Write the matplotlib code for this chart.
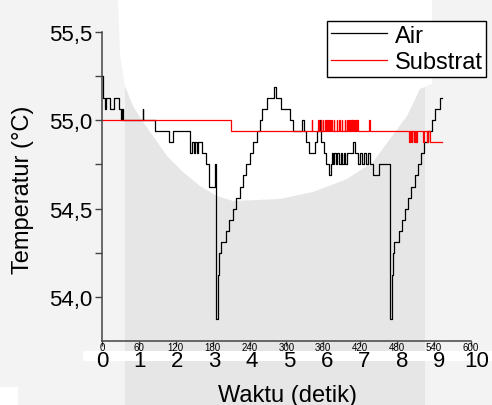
import matplotlib
matplotlib.use("Agg")
import matplotlib.pyplot as plt
from matplotlib.patches import Polygon, Rectangle

plt.rcParams['font.family'] = ['Liberation Sans', 'DejaVu Sans']

# Suhu air (detik, derajat C), resolusi sensor 1/16 C
air_t = [0, 2, 5, 7, 13, 20, 28, 31, 33, 34,
         66, 67, 86, 109, 115, 143, 146, 150, 152, 154,
         156, 163, 169, 174, 184, 186, 189, 190, 193, 202,
         207, 213, 218, 224, 229, 235, 241, 246, 252, 257,
         260, 268, 280, 283, 291, 306, 311, 325, 328, 332,
         336, 346, 349, 354, 357, 361, 365, 370, 372, 374,
         376, 378, 380, 383, 385, 389, 390, 393, 395, 398,
         408, 411, 416, 419, 423, 426, 429, 433, 436, 441,
         450, 469, 472, 473, 475, 483, 488, 493, 498, 503,
         509, 514, 519, 524, 530, 536, 541, 549, 553]
air_v = [55.25, 55.125, 55.0625, 55.125, 55.0625, 55.125, 55.0625, 55.0, 55.0625, 55.0,
         55.0625, 55.0, 54.9375, 54.875, 54.9375, 54.8125, 54.875, 54.8125, 54.875, 54.8125,
         54.875, 54.8125, 54.75, 54.625, 54.75, 53.875, 54.125, 54.25, 54.3125, 54.375,
         54.4375, 54.5, 54.5625, 54.625, 54.6875, 54.75, 54.8125, 54.875, 54.9375, 55.0,
         55.0625, 55.125, 55.1875, 55.125, 55.0625, 55.0, 54.9375, 55.0, 54.9375, 54.875,
         54.8125, 54.875, 54.9375, 55.0, 54.875, 54.8125, 54.75, 54.6875, 54.75, 54.8125,
         54.75, 54.8125, 54.75, 54.8125, 54.75, 54.8125, 54.75, 54.8125, 54.75, 54.8125,
         54.875, 54.8125, 54.75, 54.8125, 54.75, 54.8125, 54.75, 54.8125, 54.75, 54.6875,
         54.75, 53.875, 54.125, 54.25, 54.3125, 54.375, 54.4375, 54.5, 54.5625, 54.625,
         54.6875, 54.75, 54.8125, 54.875, 54.9375, 55.0, 55.0625, 55.125, 55.125]

# Suhu substrat
sub_t = [0, 210,
         341, 342, 352, 353, 356, 357, 359, 360, 363, 364,
         366, 367, 370, 371, 373, 374, 377, 378, 382, 383,
         386, 387, 390, 391, 395, 396, 398, 399, 400, 401,
         403, 404, 405, 406, 407, 408, 409, 410, 411, 412,
         413, 414, 415, 416, 435, 436,
         500, 501, 502, 503, 504, 505, 507, 508, 509, 510,
         511, 512, 522, 523, 528, 529, 530, 531, 533, 553]
sub_v = [55.0, 54.9375,
         55.0, 54.9375, 55.0, 54.9375, 55.0, 54.9375, 55.0, 54.9375, 55.0, 54.9375,
         55.0, 54.9375, 55.0, 54.9375, 55.0, 54.9375, 55.0, 54.9375, 55.0, 54.9375,
         55.0, 54.9375, 55.0, 54.9375, 55.0, 54.9375, 55.0, 54.9375, 55.0, 54.9375,
         55.0, 54.9375, 55.0, 54.9375, 55.0, 54.9375, 55.0, 54.9375, 55.0, 54.9375,
         55.0, 54.9375, 55.0, 54.9375, 55.0, 54.9375,
         54.875, 54.9375, 54.875, 54.9375, 54.875, 54.9375, 54.875, 54.9375, 54.875, 54.9375,
         54.875, 54.9375, 54.875, 54.9375, 54.875, 54.9375, 54.875, 54.9375, 54.875, 54.875]

x_ticks = [0, 60, 120, 180, 240, 300, 360, 420, 480, 540, 600]
y_ticks = [54.0, 54.5, 55.0, 55.5]
y_labels = ['54,0', '54,5', '55,0', '55,5']
y_minor = [54.25, 54.75, 55.25]
big_ticks = [0, 1, 2, 3, 4, 5, 6, 7, 8, 9, 10]

W, H = 492, 406
fig = plt.figure(figsize=(W / 100, H / 100), dpi=100, facecolor='#f3f3f3')

# latar belakang abu-abu (dalam koordinat piksel)
bg = fig.add_axes([0, 0, 1, 1], zorder=0)
bg.set_xlim(0, W)
bg.set_ylim(H, 0)
bg.axis('off')
bg.add_patch(Rectangle((125, 80), 300, 326, color='#e6e6e6', lw=0))
bowl = [(118, 0), (432, 0), (432, 85), (427, 87), (420, 90), (407, 117),
        (390, 140), (373, 163), (347, 180), (313, 193), (280, 200), (233, 202),
        (217, 197), (200, 187), (183, 173), (167, 157), (153, 137), (143, 123),
        (133, 107), (125, 87), (120, 55)]
bg.add_patch(Polygon(bowl, closed=True, color='white', lw=0))
bg.add_patch(Rectangle((83, 352), 409, 10, color='white', lw=0))
bg.add_patch(Rectangle((0, 388), 18, 18, color='white', lw=0))

ax = fig.add_axes([102 / W, 64 / H, 375 / W, 309 / H], zorder=1)
ax.patch.set_alpha(0)
ax.plot(air_t, air_v, drawstyle='steps-post', color='black', lw=0.9, label='Air')
ax.plot(sub_t, sub_v, drawstyle='steps-post', color='red', lw=0.9, label='Substrat')

ax.set_xlim(0, 610)
ax.set_ylim(53.75, 55.5)
for s in ['top', 'right']:
    ax.spines[s].set_visible(False)
for s in ['left', 'bottom']:
    ax.spines[s].set_color('#444444')
    ax.spines[s].set_linewidth(1.1)
ax.spines['bottom'].set_bounds(0, 600)

ax.set_yticks(y_ticks)
ax.set_yticklabels(y_labels)
ax.set_yticks(y_minor, minor=True)
ax.tick_params(axis='y', which='both', direction='out', length=5, width=1,
               color='#444444', labelsize=16, pad=2)
ax.set_xticks(x_ticks)
ax.tick_params(axis='x', direction='out', length=3.5, width=1, color='#444444',
               labelsize=7, pad=-2.5)

sec = ax.secondary_xaxis('bottom', functions=(lambda x: x / 61, lambda x: x * 61))
sec.set_xticks(big_ticks)
sec.tick_params(length=0, labelsize=16, pad=6.5)
sec.spines['bottom'].set_visible(False)

ax.set_ylabel('Temperatur (°C)', fontsize=17)
ax.yaxis.set_label_coords(-0.181, 0.492)
ax.set_xlabel('Waktu (detik)', fontsize=17)
ax.xaxis.set_label_coords((287.5 - 102) / 375, (342 - 385) / 309)

leg = ax.legend(loc='upper right', bbox_to_anchor=(486 / W, 1 - 22 / H),
                bbox_transform=fig.transFigure, fancybox=False, framealpha=1,
                edgecolor='black', fontsize=17, handlelength=2.4, handletextpad=0.3,
                borderpad=0.15, labelspacing=0.2, borderaxespad=0)
leg.get_frame().set_linewidth(1.0)

fig.savefig('out.png', dpi=100, facecolor=fig.get_facecolor())
